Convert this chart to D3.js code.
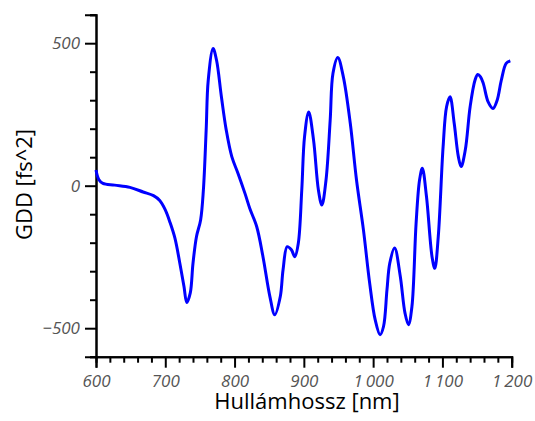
<!DOCTYPE html>
<html>
<head>
<meta charset="utf-8">
<script src="https://cdn.jsdelivr.net/npm/d3@7"></script>
<style>
  body { margin: 0; background: #fff; }
  svg { display: block; }
  .tick text { font-family: "Open Sans", sans-serif; font-style: italic; fill: #555; font-size: 17px; }
  .title { font-family: "Open Sans", sans-serif; font-size: 22px; fill: #000; font-weight: 500; }
</style>
</head>
<body>
<svg id="chart" width="535" height="421"></svg>
<script>
// ---- data ----
const wavelength = [600,604,610,627,649,668,683,692,700,707,714,721,727,731,736,740,745,751,755,759,762,769,774,781,788,796,805,815,822,832,841,851,858,866,870,876,882,887,892,897,901,907,914,921,926,932,938,942,949,957,967,976,986,995,1003,1010,1015,1020,1024,1031,1039,1046,1051,1056,1062,1067,1071,1077,1085,1089,1094,1101,1106,1111,1117,1123,1127,1133,1140,1147,1151,1155,1159,1166,1173,1179,1185,1192,1198];
const gdd = [55,22,8,2,-6,-22,-35,-52,-85,-130,-185,-272,-354,-410,-377,-272,-179,-120,-15,195,370,481,440,312,195,102,43,-27,-80,-144,-249,-389,-453,-389,-295,-214,-225,-249,-202,-15,172,259,160,-15,-68,20,230,394,450,382,219,20,-155,-342,-471,-523,-494,-365,-272,-219,-315,-447,-488,-424,-132,20,61,-38,-249,-290,-179,137,277,312,219,102,67,125,277,370,390,382,359,294,271,300,370,429,438];
const xTickValues = [600,700,800,900,1000,1100,1200];
const xTickLabels = ["600","700","800","900","1\u2009000","1\u2009100","1\u2009200"];
const yTickValues = [-500,0,500];
const yTickLabels = ["\u2212500","0","500"];
const xTitle = "Hullámhossz [nm]";
const yTitle = "GDD [fs^2]";

// ---- layout ----
const svg = d3.select("#chart");
const x = d3.scaleLinear().domain([600,1200]).range([96,511.7]);
const y = d3.scaleLinear().domain([-600,600]).range([356.7,14.7]);

// minor ticks
const xMinor = d3.range(600,1201,20).filter(v => v % 100 !== 0);
const yMinor = d3.range(-600,601,100).filter(v => !yTickValues.includes(v));

const gx = svg.append("g").attr("transform", `translate(0,${y(-600)})`);
gx.call(d3.axisBottom(x).tickValues(xMinor).tickSize(6).tickFormat(""));
gx.selectAll("text").remove();
const gxMaj = svg.append("g").attr("transform", `translate(0,${y(-600)})`);
gxMaj.call(d3.axisBottom(x).tickValues(xTickValues).tickSize(11).tickPadding(7)
  .tickFormat((d,i) => xTickLabels[i]));

const gy = svg.append("g").attr("transform", `translate(${x(600)},0)`);
gy.call(d3.axisLeft(y).tickValues(yMinor).tickSize(6).tickFormat(""));
gy.selectAll("text").remove();
const gyMaj = svg.append("g").attr("transform", `translate(${x(600)},0)`);
gyMaj.call(d3.axisLeft(y).tickValues(yTickValues).tickSize(11).tickPadding(5)
  .tickFormat((d,i) => yTickLabels[yTickValues.indexOf(d)]));

svg.selectAll(".domain").attr("stroke", "#000").attr("stroke-width", 2);
svg.selectAll(".tick line").attr("stroke", "#000").attr("stroke-width", 2);

// line
const pts = wavelength.map((w,i) => [w, gdd[i]]);
svg.append("path")
  .datum(pts)
  .attr("fill", "none")
  .attr("stroke", "#0000ff")
  .attr("stroke-width", 3)
  .attr("stroke-linejoin", "round")
  .attr("d", d3.line().x(d => x(d[0])).y(d => y(d[1])).curve(d3.curveCatmullRom.alpha(0.5)));

// titles
svg.append("text").attr("class","title")
  .attr("x", 307).attr("y", 409).attr("text-anchor","middle").text(xTitle);
svg.append("text").attr("class","title")
  .attr("transform", "translate(31.5,184.5) rotate(-90)")
  .attr("text-anchor","middle").text(yTitle);
</script>
</body>
</html>
